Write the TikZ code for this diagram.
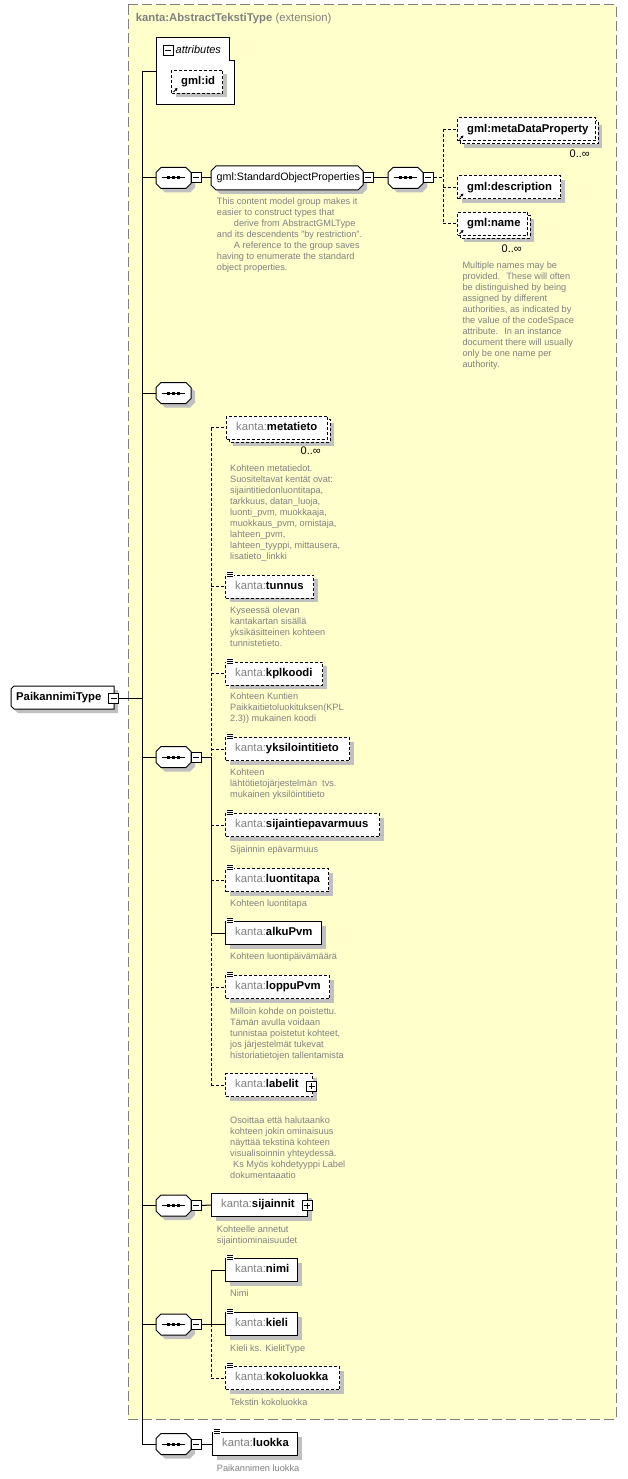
\documentclass[tikz,border=0pt]{standalone}
\usepackage{fontspec}
\setmainfont{Liberation Sans}
\usetikzlibrary{shadows,arrows.meta}
\definecolor{bgyellow}{RGB}{255,255,204}
\definecolor{grayt}{RGB}{128,128,128}
\definecolor{annotc}{RGB}{128,128,128}
\definecolor{shadowc}{RGB}{192,192,192}
\tikzset{
  sh/.style={drop shadow={shadow xshift=4pt,shadow yshift=-4pt,fill=shadowc,opacity=1}},
  opt/.style={dash pattern=on 3pt off 2pt},
  conn/.style={line width=1pt},
  ebox/.style={draw,fill=white,line width=1pt,rectangle,inner sep=0pt,minimum height=23pt},
  ename/.style={font=\fontsize{11.3}{13}\selectfont,inner sep=0pt,anchor=mid west},
  annot/.style={font=\fontsize{9.2}{11}\selectfont,text=annotc,align=left,inner sep=0pt,anchor=north west},
  multl/.style={font=\fontsize{11}{12}\selectfont,inner sep=0pt,anchor=mid east},
  mbox/.style={draw,fill=white,line width=1pt,rectangle,minimum size=10pt,inner sep=0pt,
    path picture={\draw[line width=1pt] ([xshift=2pt]path picture bounding box.west) -- ([xshift=-2pt]path picture bounding box.east);}},
  pbox/.style={draw,fill=white,line width=1pt,rectangle,minimum size=10pt,inner sep=0pt,
    path picture={\draw[line width=1pt] ([xshift=2pt]path picture bounding box.west) -- ([xshift=-2pt]path picture bounding box.east);
      \draw[line width=1pt] ([yshift=-2pt]path picture bounding box.north) -- ([yshift=2pt]path picture bounding box.south);}},
}
\newcommand\kant[1]{{\color{grayt}kanta:}\textbf{#1}}
% element box: name, left, right, cy, style, content
\newcommand\elem[6]{%
  \node[ebox,#5,minimum width={#3-#2},anchor=west] (#1) at (#2,#4) {};
  \node[ename] (#1-t) at ([xshift=10pt]#1.west) {#6};}
\newcommand\backbox[3]{\draw[line width=1pt,opt,fill=white,sh] (#1+3,#3-8.5) rectangle (#2+3,#3+14.5);}
\newcommand\multlabel[3]{\node[multl] (#1) at (#2,#3) {0..∞};}
\newcommand\sicon[1]{%
  \fill[white] ([shift={(1,-3.5)}]#1.north west) rectangle ([shift={(9,2.5)}]#1.north west);
  \foreach \dy in {-2.5,-0.5,1.5}{\draw[line width=0.8pt] ([shift={(2,\dy)}]#1.north west) -- ++(6,0);}}
\newcommand\refarrow[1]{\draw[line width=0.9pt,-{Triangle[length=2.6pt,width=2.8pt]}] ([shift={(2.5,-2)}]#1.south west) -- ++(4,-4);}
\newcommand\comp[3]{%
  \node[inner sep=0pt,minimum width=35pt,minimum height=21pt,anchor=west] (#1) at (#2,#3) {};
  \draw[line width=1pt,fill=white,sh] (#2+5,#3-10.5) -- (#2+30,#3-10.5) -- (#2+35,#3-5.5) -- (#2+35,#3+5.5) -- (#2+30,#3+10.5) -- (#2+5,#3+10.5) -- (#2,#3+5.5) -- (#2,#3-5.5) -- cycle;
  \draw[line width=1pt] (#2+6,#3) -- (#2+29,#3);
  \foreach \d in {11,16,21}{\fill (#2+\d,#3-1.5) rectangle ++(3,3);}}
\begin{document}
\begin{tikzpicture}[x=1pt,y=-1pt]
\useasboundingbox (0,0) rectangle (627,1479);
\fill[white] (0,0) rectangle (627,1479);
% extension area
\draw[fill=bgyellow,draw=grayt,line width=1pt,dash pattern=on 10pt off 4pt] (128,5) rectangle (616,1419);
\node[anchor=mid west,font=\fontsize{11.3}{13}\selectfont,text=grayt,inner sep=0pt] (title) at (135.7,19) {\textbf{kanta:AbstractTekstiType} (extension)};
% attributes
\draw[line width=1pt,fill=white] (156,38) -- (229,38) -- (229,61) -- (234,61) -- (234,105) -- (156,105) -- cycle;
\coordinate (attrin) at (156,72);
\node[mbox] (attr-m) at (168,50.5) {};
\node[anchor=mid west,font=\fontsize{11}{13}\selectfont\itshape,inner sep=0pt] (attrt) at (175.5,50.5) {attributes};
\elem{gid}{171}{222}{82}{opt,sh}{\textbf{gml:id}}
\refarrow{gid}
% root
\node[inner sep=0pt,minimum width=103pt,minimum height=23pt,anchor=west] (pt) at (11,697.5) {};
\draw[line width=1pt,fill=white,sh] (14,686) -- (114,686) -- (114,709) -- (14,709) -- (11,706) -- (11,689) -- cycle;
\node[ename,font=\fontsize{11.3}{13}\selectfont\bfseries] (pt-t) at (16,697.5) {PaikannimiType};
\node[mbox] (pt-m) at (113.5,698) {};
% compositor 1 and StandardObjectProperties
\comp{c1}{156}{178}
\node[mbox] (c1-m) at (196,178) {};
\node[inner sep=0pt,minimum width=152pt,minimum height=24pt,anchor=west] (sop) at (211,178) {};
\draw[line width=1pt,fill=white,sh] (216,166) -- (358,166) -- (363,171) -- (363,185) -- (358,190) -- (216,190) -- (211,185) -- (211,171) -- cycle;
\node[anchor=mid west,font=\fontsize{10.7}{13}\selectfont,inner sep=0pt] (sop-t) at (216.5,178) {gml:StandardObjectProperties};
\node[mbox] (sop-m) at (368,178) {};
\node[annot] (sop-a) at (216.7,197.4) {This content model group makes it\\easier to construct types that\\\hspace*{17pt}derive from AbstractGMLType\\and its descendents "by restriction".\\\hspace*{17pt}A reference to the group saves\\having to enumerate the standard\\object properties.};
\comp{c2}{388}{178}
\node[mbox] (c2-m) at (428,178) {};
\backbox{457}{595}{129.5}
\elem{mdp}{457}{595}{129.5}{opt}{\textbf{gml:metaDataProperty}}
\refarrow{mdp}
\multlabel{mdp-n}{590}{155}
\elem{gdesc}{457}{560}{187.5}{opt,sh}{\textbf{gml:description}}
\refarrow{gdesc}
\backbox{457}{527}{224}
\elem{gname}{457}{527}{224}{opt}{\textbf{gml:name}}
\refarrow{gname}
\multlabel{gname-n}{522}{250}
\node[annot] (gname-a) at (462.3,261.4) {Multiple names may be\\provided.~ These will often\\be distinguished by being\\assigned by different\\authorities, as indicated by\\the value of the codeSpace\\attribute.~ In an instance\\document there will usually\\only be one name per\\authority.};
% compositor 3
\comp{c3}{156}{393}
% compositor 4 and its sequence
\comp{c4}{156}{757}
\node[mbox] (c4-m) at (196,757) {};
\backbox{226}{327}{427.5}
\elem{metatieto}{226}{327}{427.5}{opt}{\kant{metatieto}}
\multlabel{metatieto-n}{321}{452}
\node[annot] (metatieto-a) at (230,464.7) {Kohteen metatiedot.\\Suositeltavat kentät ovat:\\sijaintitiedonluontitapa,\\tarkkuus, datan\_luoja,\\luonti\_pvm, muokkaaja,\\muokkaus\_pvm, omistaja,\\lahteen\_pvm,\\lahteen\_tyyppi, mittausera,\\lisatieto\_linkki};
\elem{tunnus}{225}{313}{586.5}{opt,sh}{\kant{tunnus}}
\sicon{tunnus}
\node[annot] (tunnus-a) at (230,606.7) {Kyseessä olevan\\kantakartan sisällä\\yksikäsitteinen kohteen\\tunnistetieto.};
\elem{kpl}{225}{322}{673.5}{opt,sh}{\kant{kplkoodi}}
\sicon{kpl}
\node[annot] (kpl-a) at (230,693) {Kohteen Kuntien\\Paikkaitietoluokituksen(KPL\\2.3)) mukainen koodi};
\elem{yks}{225}{349}{749.3}{opt,sh}{\kant{yksilointitieto}}
\sicon{yks}
\node[annot] (yks-a) at (230,769) {Kohteen\\lähtötietojärjestelmän~ tvs.\\mukainen yksilöintitieto};
\elem{sep}{225}{379}{825}{opt,sh}{\kant{sijaintiepavarmuus}}
\sicon{sep}
\node[annot] (sep-a) at (230,845.7) {Sijainnin epävarmuus};
\elem{lt}{225}{328}{880}{opt,sh}{\kant{luontitapa}}
\sicon{lt}
\node[annot] (lt-a) at (230,899.4) {Kohteen luontitapa};
\elem{alku}{225}{321}{933.3}{sh}{\kant{alkuPvm}}
\sicon{alku}
\node[annot] (alku-a) at (230,953) {Kohteen luontipäivämäärä};
\elem{loppu}{225}{329}{987.3}{opt,sh}{\kant{loppuPvm}}
\sicon{loppu}
\node[annot] (loppu-a) at (230,1007.4) {Milloin kohde on poistettu.\\Tämän avulla voidaan\\tunnistaa poistetut kohteet,\\jos järjestelmät tukevat\\historiatietojen tallentamista};
\elem{labelit}{225}{312}{1085}{opt,sh}{\kant{labelit}}
\node[pbox] (labelit-p) at (311.5,1086) {};
\node[annot] (labelit-a) at (230,1116.7) {Osoittaa että halutaanko\\kohteen jokin ominaisuus\\näyttää tekstinä kohteen\\visualisoinnin yhteydessä.\\\hspace*{3pt}Ks Myös kohdetyyppi Label\\dokumentaaatio};
% compositor 5
\comp{c5}{156}{1205.5}
\node[mbox] (c5-m) at (196,1205.5) {};
\elem{sij}{211}{307}{1205}{sh}{\kant{sijainnit}}
\node[pbox] (sij-p) at (307,1205.5) {};
\node[annot] (sij-a) at (216.7,1225.7) {Kohteelle annetut\\sijaintiominaisuudet};
% compositor 6
\comp{c6}{156}{1324.5}
\node[mbox] (c6-m) at (196,1324.5) {};
\elem{nimi}{225}{297}{1270}{sh}{\kant{nimi}}
\sicon{nimi}
\node[annot] (nimi-a) at (230,1290) {Nimi};
\elem{kieli}{225}{297}{1324.3}{sh}{\kant{kieli}}
\sicon{kieli}
\node[annot] (kieli-a) at (230,1344.4) {Kieli ks. KielitType};
\elem{koko}{225}{339}{1378.3}{opt,sh}{\kant{kokoluokka}}
\sicon{koko}
\node[annot] (koko-a) at (230,1398.7) {Tekstin kokoluokka};
% compositor 7
\comp{c7}{156}{1444}
\node[mbox] (c7-m) at (196,1444) {};
\elem{luokka}{212}{297}{1444}{sh}{\kant{luokka}}
\sicon{luokka}
\node[annot] (luokka-a) at (216.7,1464.7) {Paikannimen luokka};
% connectors
\coordinate (spine) at (142,72);
\coordinate (b2) at (443,0);
\coordinate (b4) at (211,0);
\draw[conn] (attrin) -- (spine) -- (spine |- c7.west) -- (c7.west);
\foreach \c in {c1,c3,c4,c5,c6}{\draw[conn] (spine |- \c.west) -- (\c.west);}
\draw[conn] (pt-m.east) -- (pt-m.east -| spine);
\draw[conn] (c1-m.east) -- (sop.west);
\draw[conn] (sop-m.east) -- (c2.west);
\draw[conn,opt] (c2-m.east) -- (c2-m.east -| b2);
\draw[conn,opt] (b2 |- mdp.west) -- (b2 |- gname.west);
\foreach \e in {mdp,gdesc,gname}{\draw[conn,opt] (b2 |- \e.west) -- (\e.west);}
\draw[conn] (c4-m.east) -- (c4-m.east -| b4);
\draw[conn,opt] (b4 |- metatieto.west) -- (b4 |- c4.west);
\draw[conn] (b4 |- c4.west) -- (b4 |- alku.west);
\draw[conn,opt] (b4 |- alku.west) -- (b4 |- labelit.west);
\foreach \e in {metatieto,tunnus,kpl,yks,sep,lt,loppu,labelit}{\draw[conn,opt] (b4 |- \e.west) -- (\e.west);}
\draw[conn] (b4 |- alku.west) -- (alku.west);
\draw[conn] (c5-m.east) -- (sij.west);
\draw[conn] (c6-m.east) -- (c6-m.east -| b4);
\draw[conn] (b4 |- nimi.west) -- (b4 |- kieli.west);
\draw[conn,opt] (b4 |- kieli.west) -- (b4 |- koko.west);
\draw[conn] (b4 |- nimi.west) -- (nimi.west);
\draw[conn] (b4 |- kieli.west) -- (kieli.west);
\draw[conn,opt] (b4 |- koko.west) -- (koko.west);
\draw[conn] (c7-m.east) -- (luokka.west);
\end{tikzpicture}
\end{document}
